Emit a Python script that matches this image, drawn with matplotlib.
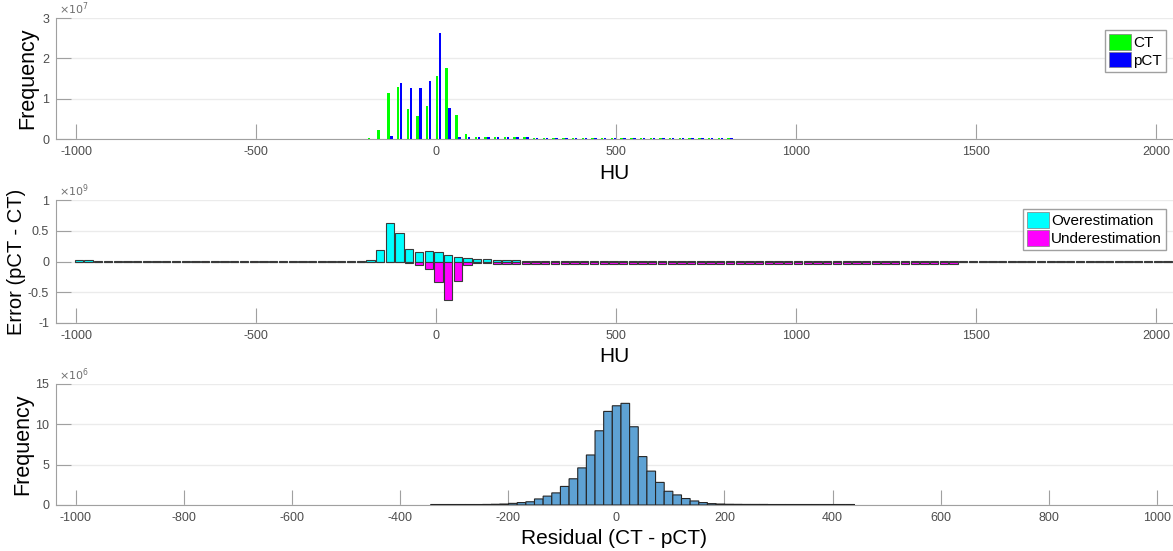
import numpy as np
import matplotlib
matplotlib.use("Agg")
import matplotlib.pyplot as plt
from matplotlib.patches import Patch

plt.rcParams["font.family"] = ["Liberation Sans", "DejaVu Sans"]
plt.rcParams["axes.unicode_minus"] = False

# HU bins shared by the two upper panels (width 27 HU, 113 bins)
hu_edges = np.arange(-1006, 2046, 27)
hu_centers = hu_edges[:-1] + 13.5

# top panel: counts per bin, x1e7
ct_counts = ([0.0] * 30
             + [0.02, 0.22, 1.13, 1.28, 0.74, 0.58, 0.83, 1.56, 1.76, 0.60,
                0.12, 0.06, 0.05, 0.05, 0.045, 0.04, 0.04, 0.035, 0.03, 0.03]
             + [0.02] * 18
             + [0.0] * 45)
pct_counts = ([0.0] * 32
              + [0.07, 1.40, 1.26, 1.26, 1.45, 2.62, 0.76, 0.06,
                 0.06, 0.05, 0.05, 0.05, 0.045, 0.04, 0.04, 0.035, 0.03, 0.03]
              + [0.02] * 18
              + [0.0] * 45)

# middle panel: pCT - CT split into over / under estimation, x1e9
over_est = ([0.02, 0.02, 0.01] + [0.002] * 25
            + [0.005, 0.01, 0.02, 0.18, 0.62, 0.47, 0.21, 0.15, 0.17, 0.15,
               0.10, 0.08, 0.055, 0.045, 0.04, 0.03, 0.025, 0.02, 0.015, 0.01]
            + [0.005] * 43
            + [0.002] * 22)
under_est = ([0.0] * 32
             + [0.01, 0.01, 0.03, 0.06, 0.13, 0.33, 0.62, 0.32, 0.06, 0.03, 0.03]
             + [0.045] * 48
             + [0.0] * 22)

# bottom panel: residual histogram (width 16), x1e6
res_edges = np.arange(-343.5, 441, 16)
res_counts = ([0.06] * 6
              + [0.07, 0.09, 0.12, 0.2, 0.3, 0.4, 0.75, 1.1, 1.5, 2.3, 3.25,
                 4.6, 6.2, 9.2, 11.6]
              + [12.3, 12.6, 9.7, 6.0, 4.2, 2.8, 1.7, 1.25, 0.8, 0.5, 0.3,
                 0.17, 0.12, 0.09, 0.08, 0.07, 0.07, 0.07]
              + [0.06] * 10)

spine_c = "#a0a0a0"
tick_c = "#4d4d4d"


def style(ax, yticks, xticks, ylab_x):
    for s in ("top", "right"):
        ax.spines[s].set_visible(False)
    for s in ("left", "bottom"):
        ax.spines[s].set_color(spine_c)
        ax.spines[s].set_linewidth(0.8)
    ax.set_yticks(yticks)
    ax.set_xticks(xticks)
    ax.tick_params(direction="in", length=11, width=0.8, color=spine_c,
                   labelsize=9, labelcolor=tick_c, pad=5)
    ax.yaxis.grid(True, color="#ebebeb", linewidth=1.0)
    ax.set_axisbelow(True)
    ax.yaxis.set_label_coords(ylab_x, 0.5)


def exponent(ax, p):
    ax.text(0.003, 1.005, r"$\times10^{%d}$" % p, transform=ax.transAxes,
            fontsize=8, color="#707070", ha="left", va="bottom")


def legend(ax, items, y):
    handles = [Patch(facecolor=c, edgecolor="#7f7f7f", lw=0.5, label=t) for c, t in items]
    ax.legend(handles=handles, loc="upper right", bbox_to_anchor=(0.9935, y),
              fontsize=11, handlelength=1.45, handleheight=1.2,
              handletextpad=0.15, labelspacing=0.12, borderpad=0.25,
              borderaxespad=0.0, fancybox=False, edgecolor="#a0a0a0",
              framealpha=1)


fig = plt.figure(figsize=(11.73, 5.51), dpi=100)
left, width = 0.0477, 0.9523

# top
ax1 = fig.add_axes([left, 0.7477, width, 0.2196])
ax1.bar(hu_centers - 4.2, ct_counts, width=6.8, color="#00ff00", zorder=3)
ax1.bar(hu_centers + 4.2, pct_counts, width=6.8, color="#0000ff", zorder=3)
ax1.set_xlim(-1056, 2047)
ax1.set_ylim(0, 3)
style(ax1, [0, 1, 2, 3], [-1000, -500, 0, 500, 1000, 1500, 2000], -0.0161)
ax1.set_xlabel("HU", fontsize=15, labelpad=4)
ax1.set_ylabel("Frequency", fontsize=15.5)
exponent(ax1, 7)
legend(ax1, [("#00ff00", "CT"), ("#0000ff", "pCT")], 0.9)

# middle
ax2 = fig.add_axes([left, 0.4138, width, 0.2232])
ax2.bar(hu_centers, over_est, width=23, color="#00ffff",
        edgecolor="#3a3a3a", linewidth=0.8, zorder=3)
ax2.bar(hu_centers, [-v for v in under_est], width=23, color="#ff00ff",
        edgecolor="#3a3a3a", linewidth=0.8, zorder=3)
ax2.set_xlim(-1056, 2047)
ax2.set_ylim(-1, 1)
style(ax2, [-1, -0.5, 0, 0.5, 1], [-1000, -500, 0, 500, 1000, 1500, 2000], -0.0265)
ax2.set_yticklabels(["-1", "-0.5", "0", "0.5", "1"])
ax2.set_xlabel("HU", fontsize=15, labelpad=4)
ax2.set_ylabel("Error (pCT - CT)", fontsize=14.5)
exponent(ax2, 9)
legend(ax2, [("#00ffff", "Overestimation"), ("#ff00ff", "Underestimation")], 0.93)

# bottom
ax3 = fig.add_axes([left, 0.0835, width, 0.2196])
ax3.bar(res_edges[:-1], res_counts, width=16, align="edge", color="#5ea2d4",
        edgecolor="#262626", linewidth=0.8, zorder=3, snap=False)
ax3.set_xlim(-1037, 1030)
ax3.set_ylim(0, 15)
style(ax3, [0, 5, 10, 15], list(range(-1000, 1001, 200)), -0.0206)
ax3.set_xlabel("Residual (CT - pCT)", fontsize=15, labelpad=4)
ax3.set_ylabel("Frequency", fontsize=15.5)
exponent(ax3, 6)

fig.savefig("out.png", dpi=100)
